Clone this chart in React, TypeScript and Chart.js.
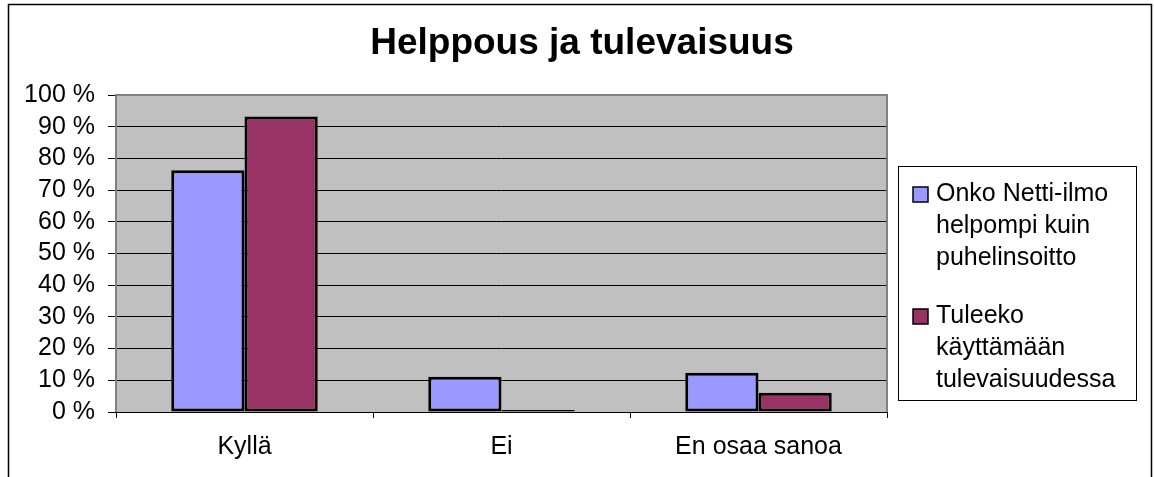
import React, { useEffect, useRef } from "react";
import { Chart, registerables } from "chart.js";

Chart.register(...registerables);

const TITLE = "Helppous ja tulevaisuus";
const categories = ["Kyllä", "Ei", "En osaa sanoa"];
const seriesEasier = [76.3, 11.1, 12.4];
const seriesFuture = [93.2, 0.6, 6.1];
const legendLines = [
  ["Onko Netti-ilmo", "helpompi kuin", "puhelinsoitto"],
  ["Tuleeko", "käyttämään", "tulevaisuudessa"],
];
const seriesColors = ["#9999FF", "#993366"];

const FONT = "'Liberation Sans', Arial, sans-serif";

const framePlugin = {
  id: "excelFrame",
  beforeDraw(chart: any) {
    const { ctx, chartArea } = chart;
    ctx.save();
    ctx.fillStyle = "#FFFFFF";
    ctx.fillRect(0, 0, chart.width, chart.height);
    ctx.strokeStyle = "#000000";
    ctx.lineWidth = 1.5;
    ctx.strokeRect(8.5, 4.5, 1143, 520);
    ctx.fillStyle = "#C0C0C0";
    ctx.fillRect(chartArea.left, chartArea.top, chartArea.right - chartArea.left, chartArea.bottom - chartArea.top);
    ctx.restore();
  },
  afterDatasetsDraw(chart: any) {
    const { ctx, chartArea } = chart;
    ctx.save();
    ctx.strokeStyle = "#808080";
    ctx.lineWidth = 2;
    ctx.beginPath();
    ctx.moveTo(chartArea.left, chartArea.bottom);
    ctx.lineTo(chartArea.left, chartArea.top);
    ctx.lineTo(chartArea.right, chartArea.top);
    ctx.lineTo(chartArea.right, chartArea.bottom);
    ctx.stroke();
    ctx.strokeStyle = "#000000";
    ctx.lineWidth = 1;
    ctx.beginPath();
    ctx.moveTo(chartArea.left, Math.round(chartArea.bottom) + 0.5);
    ctx.lineTo(chartArea.right, Math.round(chartArea.bottom) + 0.5);
    ctx.stroke();
    ctx.restore();
  },
  afterDraw(chart: any) {
    const { ctx } = chart;
    const boxX = 898.5, boxY = 166.5, boxW = 238, boxH = 234;
    ctx.save();
    ctx.fillStyle = "#FFFFFF";
    ctx.fillRect(boxX, boxY, boxW, boxH);
    ctx.strokeStyle = "#000000";
    ctx.lineWidth = 1;
    ctx.strokeRect(boxX, boxY, boxW, boxH);
    ctx.font = `25px ${FONT}`;
    ctx.textBaseline = "middle";
    ctx.textAlign = "left";
    const lineH = 32;
    const startYs = [194, 316];
    chart.data.datasets.forEach((ds: any, i: number) => {
      const y0 = startYs[i];
      ctx.fillStyle = ds.backgroundColor;
      ctx.fillRect(913, y0 - 7, 15, 15);
      ctx.strokeStyle = "#000000";
      ctx.lineWidth = 1.5;
      ctx.strokeRect(913, y0 - 7, 15, 15);
      ctx.fillStyle = "#000000";
      legendLines[i].forEach((line, j) => {
        ctx.fillText(line, 936, y0 + j * lineH);
      });
    });
    ctx.restore();
  },
};

export default function App() {
  const canvasRef = useRef<HTMLCanvasElement | null>(null);

  useEffect(() => {
    document.body.style.margin = "0";
    document.body.style.overflow = "hidden";
    const canvas = canvasRef.current;
    if (!canvas) return;
    const chart = new Chart(canvas, {
      type: "bar",
      data: {
        labels: categories,
        datasets: [
          {
            label: legendLines[0].join(" "),
            data: seriesEasier,
            backgroundColor: seriesColors[0],
            borderColor: "#000000",
            borderWidth: 3,
            borderSkipped: false,
            categoryPercentage: 0.57,
            barPercentage: 1.0,
          },
          {
            label: legendLines[1].join(" "),
            data: seriesFuture,
            backgroundColor: seriesColors[1],
            borderColor: "#000000",
            borderWidth: 3,
            borderSkipped: false,
            categoryPercentage: 0.57,
            barPercentage: 1.0,
          },
        ],
      },
      options: {
        responsive: false,
        animation: false,
        events: [],
        layout: { padding: { left: 10, right: 0, top: 0, bottom: 0 } },
        plugins: {
          legend: { display: false },
          tooltip: { enabled: false },
          title: {
            display: true,
            text: TITLE,
            color: "#000000",
            font: { family: FONT, size: 37, weight: "bold", lineHeight: 1.2 },
            padding: { top: 22, bottom: 28.6 },
          },
        },
        scales: {
          x: {
            grid: {
              display: true,
              offset: true,
              drawOnChartArea: false,
              drawTicks: true,
              tickLength: 6,
              color: "#000000",
            },
            border: { display: false },
            ticks: {
              color: "#000000",
              font: { family: FONT, size: 25 },
              padding: 14,
              maxRotation: 0,
              autoSkip: false,
            },
            afterFit: (s: any) => {
              s.height = 65;
            },
          },
          y: {
            min: 0,
            max: 100,
            grid: {
              color: "#000000",
              lineWidth: 1,
              drawTicks: true,
              tickLength: 8,
            },
            border: { display: false },
            ticks: {
              stepSize: 10,
              autoSkip: false,
              color: "#000000",
              font: { family: FONT, size: 25 },
              padding: 13,
              callback: (v: any) => `${v} %`,
            },
            afterFit: (s: any) => {
              s.width = 106;
            },
          },
          ySpacer: {
            type: "linear",
            position: "right",
            display: true,
            grid: { display: false, drawTicks: false },
            border: { display: false },
            ticks: { display: false },
            afterFit: (s: any) => {
              s.width = 267;
            },
          },
        },
      },
      plugins: [framePlugin],
    } as any);
    return () => chart.destroy();
  }, []);

  return (
    <canvas
      ref={canvasRef}
      width={1154}
      height={477}
      style={{ display: "block", width: "1154px", height: "477px" }}
    />
  );
}
